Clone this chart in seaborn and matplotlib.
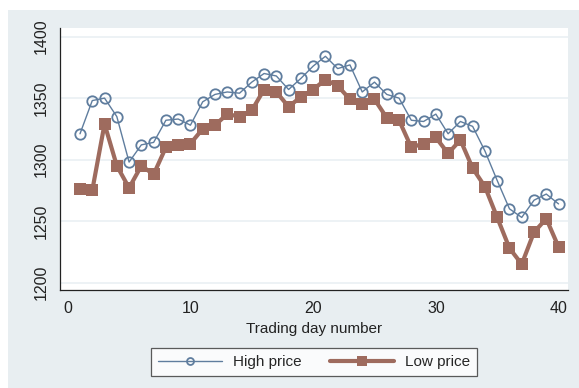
import seaborn as sns
import pandas as pd
import matplotlib.pyplot as plt
from matplotlib.patches import Rectangle

days = list(range(1, 41))
high_price = [1321, 1348, 1350, 1335, 1298, 1312, 1314, 1332, 1333, 1328,
              1347, 1353, 1355, 1354, 1363, 1370, 1368, 1357, 1366, 1376,
              1384, 1374, 1377, 1355, 1363, 1353, 1350, 1332, 1331, 1337,
              1321, 1331, 1327, 1307, 1283, 1260, 1253, 1267, 1272, 1264]
low_price = [1276, 1275, 1329, 1295, 1277, 1295, 1288, 1310, 1312, 1313,
             1325, 1328, 1337, 1335, 1340, 1357, 1355, 1343, 1351, 1357,
             1365, 1360, 1349, 1345, 1349, 1334, 1332, 1310, 1313, 1318,
             1305, 1316, 1293, 1278, 1253, 1228, 1215, 1241, 1252, 1229]
y_ticks = [1200, 1250, 1300, 1350, 1400]
x_ticks = [0, 10, 20, 30, 40]

df = pd.DataFrame({'day': days, 'High price': high_price, 'Low price': low_price})

sns.set_theme(style='white')
plt.rcParams['font.family'] = ['Liberation Sans', 'DejaVu Sans']

bg = '#e8eef1'
col_high = '#5f7d9e'
col_low = '#9e6b5e'

fig = plt.figure(figsize=(5.79, 3.88), dpi=100)
fig.patch.set_facecolor('white')
fig.patches.append(Rectangle((8 / 579, 0), 1, 1 - 10 / 388, transform=fig.transFigure,
                             facecolor=bg, edgecolor='none', zorder=-10))
ax = fig.add_axes([60 / 579, 1 - 290 / 388, 508 / 579, 262 / 388])
ax.set_facecolor('white')

sns.lineplot(data=df, x='day', y='High price', ax=ax, color=col_high, lw=1,
             marker='o', markersize=7.5, markerfacecolor='none',
             markeredgecolor=col_high, markeredgewidth=1.3, label='High price')
sns.lineplot(data=df, x='day', y='Low price', ax=ax, color=col_low, lw=3,
             marker='s', markersize=8.5, markerfacecolor=col_low,
             markeredgecolor=col_low, markeredgewidth=0, label='Low price')

ax.set_xlim(-0.63, 40.77)
ax.set_ylim(1194, 1407)
ax.set_xticks(x_ticks)
ax.set_yticks(y_ticks)
ax.set_yticklabels([str(t) for t in y_ticks], rotation=90, va='center')
ax.tick_params(axis='both', direction='out', length=5, width=0.8, color='#444444',
               labelsize=11.5, labelcolor='#222222', pad=3)
ax.grid(axis='y', color='#eaf0f3', lw=1.2)
ax.set_axisbelow(True)
for s in ['top', 'right']:
    ax.spines[s].set_visible(False)
for s in ['left', 'bottom']:
    ax.spines[s].set_color('#222222')
    ax.spines[s].set_linewidth(0.9)

ax.set_xlabel('Trading day number', fontsize=11, color='#222222', labelpad=4)
ax.set_ylabel('')

leg = ax.legend(loc='upper center', bbox_to_anchor=(0.5, -0.222), ncol=2,
                frameon=True, fancybox=False, fontsize=11, handlelength=4.2,
                columnspacing=1.9, borderpad=0.45, handletextpad=0.7,
                borderaxespad=0)
leg.get_frame().set_edgecolor('#333333')
leg.get_frame().set_linewidth(0.9)
leg.get_frame().set_facecolor('white')
leg.legend_handles[0].set_markersize(5)
leg.legend_handles[1].set_markersize(6.5)

fig.savefig('out.png', dpi=100)
